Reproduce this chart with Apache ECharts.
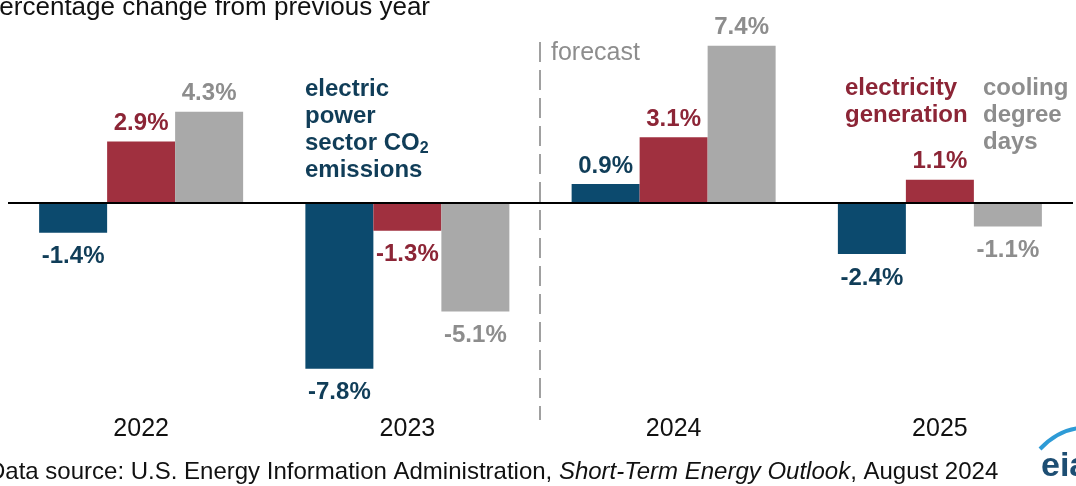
<!DOCTYPE html>
<html>
<head>
<meta charset="utf-8">
<script src="https://cdn.jsdelivr.net/npm/echarts@6/dist/echarts.min.js"></script>
<style>html,body{margin:0;padding:0;background:#fff}#c{width:1076px;height:486px}</style>
</head>
<body>
<div id="c"></div>
<script>
const categories = ['2022', '2023', '2024', '2025'];
const co2Emissions = [-1.4, -7.8, 0.9, -2.4];
const electricityGeneration = [2.9, -1.3, 3.1, 1.1];
const coolingDegreeDays = [4.3, -5.1, 7.4, -1.1];

const FONT = '"Liberation Sans", Arial, sans-serif';
const BLUE = '#0c4a6e', BLUE_TXT = '#103d58';
const RED = '#a0303f', RED_TXT = '#8c2536';
const GRAY = '#a9a9a9', GRAY_TXT = '#8d8d8d';

function items(values) {
  return values.map(v => ({value: v, label: {distance: v < 0 ? 12 : 6}}));
}
function lbl(color) {
  return {
    show: true, position: 'outside',
    formatter: p => p.value.toFixed(1) + '%',
    fontFamily: FONT, fontWeight: 'bold', fontSize: 24, color: color
  };
}

const chart = echarts.init(document.getElementById('c'), null, {renderer: 'canvas'});
chart.setOption({
  animation: false,
  backgroundColor: '#fff',
  grid: {left: 8, right: 3, top: 33, height: 340},
  xAxis: {
    type: 'category', data: categories,
    axisLine: {show: false}, axisTick: {show: false}, splitLine: {show: false},
    axisLabel: {margin: 44, fontFamily: FONT, fontSize: 25, color: '#111'}
  },
  yAxis: {type: 'value', min: -8, max: 8, show: false},
  series: [
    {type: 'bar', name: 'co2', data: items(co2Emissions), barWidth: 68, barGap: '0%',
     itemStyle: {color: BLUE}, label: lbl(BLUE_TXT),
     markLine: {silent: true, symbol: 'none', label: {show: false},
       lineStyle: {color: '#000', width: 2, type: 'solid'}, data: [{yAxis: 0}]}},
    {type: 'bar', name: 'gen', data: items(electricityGeneration), barWidth: 68, barGap: '0%',
     itemStyle: {color: RED}, label: lbl(RED_TXT)},
    {type: 'bar', name: 'cdd', data: items(coolingDegreeDays), barWidth: 68, barGap: '0%',
     itemStyle: {color: GRAY}, label: lbl(GRAY_TXT)}
  ]
});

const xa = chart.convertToPixel({xAxisIndex: 0}, categories[1]);
const xb = chart.convertToPixel({xAxisIndex: 0}, categories[2]);
const fx = Math.round((xa + xb) / 2) - 1;

function annot(x, y, text, color) {
  return {type: 'text', x: x, y: y, style: {text: text, fill: color, font: 'bold 24px ' + FONT, textVerticalAlign: 'middle'}};
}

chart.setOption({
  graphic: [
    {type: 'text', x: -18, y: 8, style: {text: 'Percentage change from previous year', fill: '#111', font: '26px ' + FONT, textVerticalAlign: 'middle'}},
    {type: 'line', shape: {x1: fx, y1: 42, x2: fx, y2: 420}, style: {stroke: '#a0a0a0', lineWidth: 2, lineDash: [20, 8]}},
    {type: 'text', x: 551, y: 53, style: {text: 'forecast', fill: GRAY_TXT, font: '25px ' + FONT, textVerticalAlign: 'middle'}},
    annot(305, 89, 'electric', BLUE_TXT),
    annot(305, 116, 'power', BLUE_TXT),
    {type: 'text', x: 305, y: 143, style: {
      text: '{a|sector CO}{s|2}', textVerticalAlign: 'middle',
      rich: {
        a: {fontFamily: FONT, fontWeight: 'bold', fontSize: 24, fill: BLUE_TXT},
        s: {fontFamily: FONT, fontWeight: 'bold', fontSize: 16, fill: BLUE_TXT, padding: [12, 0, 0, 0]}
      }}},
    annot(305, 170, 'emissions', BLUE_TXT),
    annot(845, 88, 'electricity', RED_TXT),
    annot(845, 115, 'generation', RED_TXT),
    annot(983, 88, 'cooling', GRAY_TXT),
    annot(983, 115, 'degree', GRAY_TXT),
    annot(983, 142, 'days', GRAY_TXT),
    {type: 'text', x: -12, y: 472, style: {
      text: '{a|Data source: U.S. Energy Information Administration, }{i|Short-Term Energy Outlook}{a|, August 2024}',
      textVerticalAlign: 'middle',
      rich: {
        a: {fontFamily: FONT, fontSize: 24, fill: '#111'},
        i: {fontFamily: FONT, fontSize: 24, fontStyle: 'italic', fill: '#111'}
      }}},
    {type: 'bezierCurve', shape: {x1: 1040, y1: 449, cpx1: 1058, cpy1: 430, x2: 1080, y2: 428},
     style: {stroke: '#2e9bd6', lineWidth: 4, fill: null}},
    {type: 'text', x: 1041, y: 467, style: {text: 'eia', fill: '#1d4e73', font: 'bold 34px ' + FONT, textVerticalAlign: 'middle'}}
  ]
});
</script>
</body>
</html>
